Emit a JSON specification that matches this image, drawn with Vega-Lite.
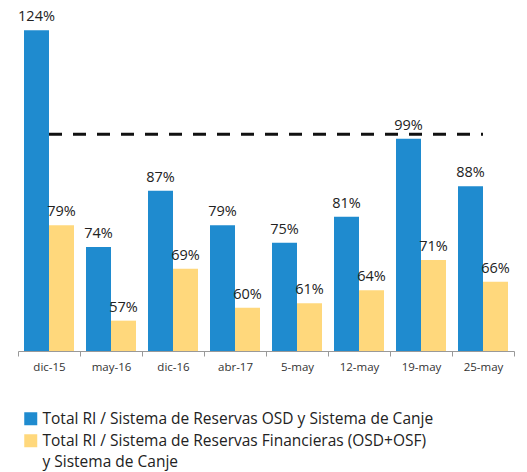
{
  "$schema": "https://vega.github.io/schema/vega-lite/v6.json",
  "width": 496,
  "height": 351,
  "autosize": {"type": "none"},
  "padding": {"left": 18, "top": 0, "right": 13, "bottom": 121},
  "config": {"view": {"stroke": null}, "font": "Open Sans"},
  "datasets": {
    "barras": [
      {"fecha": "dic-15", "serie": "Total RI / Sistema de Reservas OSD y Sistema de Canje", "valor": 124},
      {"fecha": "dic-15", "serie": "Total RI / Sistema de Reservas Financieras (OSD+OSF) y Sistema de Canje", "valor": 79},
      {"fecha": "may-16", "serie": "Total RI / Sistema de Reservas OSD y Sistema de Canje", "valor": 74},
      {"fecha": "may-16", "serie": "Total RI / Sistema de Reservas Financieras (OSD+OSF) y Sistema de Canje", "valor": 57},
      {"fecha": "dic-16", "serie": "Total RI / Sistema de Reservas OSD y Sistema de Canje", "valor": 87},
      {"fecha": "dic-16", "serie": "Total RI / Sistema de Reservas Financieras (OSD+OSF) y Sistema de Canje", "valor": 69},
      {"fecha": "abr-17", "serie": "Total RI / Sistema de Reservas OSD y Sistema de Canje", "valor": 79},
      {"fecha": "abr-17", "serie": "Total RI / Sistema de Reservas Financieras (OSD+OSF) y Sistema de Canje", "valor": 60},
      {"fecha": "5-may", "serie": "Total RI / Sistema de Reservas OSD y Sistema de Canje", "valor": 75},
      {"fecha": "5-may", "serie": "Total RI / Sistema de Reservas Financieras (OSD+OSF) y Sistema de Canje", "valor": 61},
      {"fecha": "12-may", "serie": "Total RI / Sistema de Reservas OSD y Sistema de Canje", "valor": 81},
      {"fecha": "12-may", "serie": "Total RI / Sistema de Reservas Financieras (OSD+OSF) y Sistema de Canje", "valor": 64},
      {"fecha": "19-may", "serie": "Total RI / Sistema de Reservas OSD y Sistema de Canje", "valor": 99},
      {"fecha": "19-may", "serie": "Total RI / Sistema de Reservas Financieras (OSD+OSF) y Sistema de Canje", "valor": 71},
      {"fecha": "25-may", "serie": "Total RI / Sistema de Reservas OSD y Sistema de Canje", "valor": 88},
      {"fecha": "25-may", "serie": "Total RI / Sistema de Reservas Financieras (OSD+OSF) y Sistema de Canje", "valor": 66}
    ],
    "linea": [
      {"fecha": "dic-15", "fin": "25-may", "valor": 100}
    ]
  },
  "layer": [
    {
      "data": {"name": "barras"},
      "mark": {"type": "bar"},
      "encoding": {
        "x": {
          "field": "fecha", "type": "nominal", "sort": null,
          "scale": {"paddingInner": 0, "paddingOuter": 0},
          "axis": {
            "title": null, "labelAngle": 0, "tickBand": "extent", "tickSize": 5,
            "tickColor": "#999999", "domainColor": "#999999", "labelFontSize": 11.5,
            "labelColor": "#333333", "labelPadding": 5, "labelFont": "Open Sans"
          }
        },
        "xOffset": {"field": "serie", "type": "nominal", "sort": null, "scale": {"paddingInner": 0, "paddingOuter": 0.24}},
        "y": {"field": "valor", "type": "quantitative", "scale": {"domain": [50, 131], "zero": false, "nice": false}, "axis": null},
        "y2": {"datum": 50},
        "color": {
          "field": "serie", "type": "nominal", "sort": null,
          "scale": {"range": ["#1f8bcf", "#ffd87c"]},
          "legend": {
            "orient": "none", "legendX": 5, "legendY": 411, "direction": "vertical",
            "title": null, "symbolType": "square", "symbolSize": 169, "symbolStrokeWidth": 0,
            "labelFontSize": 15.5, "labelFont": "Open Sans", "labelColor": "#222222", "labelLimit": 0,
            "labelOffset": 4, "rowPadding": 5, "labelBaseline": "middle",
            "labelExpr": "datum.label == 'Total RI / Sistema de Reservas Financieras (OSD+OSF) y Sistema de Canje' ? ['Total RI / Sistema de Reservas Financieras (OSD+OSF)', 'y Sistema de Canje'] : datum.label",
            "encode": {
              "labels": {
                "update": {
                  "lineHeight": {"value": 21}
                }
              }
            }
          }
        }
      }
    },
    {
      "data": {"name": "barras"},
      "transform": [{"calculate": "datum.valor + '%'", "as": "etiqueta"}],
      "mark": {"type": "text", "dy": -9, "baseline": "alphabetic", "fontSize": 14.5, "color": "#222222", "font": "Open Sans"},
      "encoding": {
        "x": {"field": "fecha", "type": "nominal", "sort": null},
        "xOffset": {"field": "serie", "type": "nominal", "sort": null},
        "y": {"field": "valor", "type": "quantitative"},
        "text": {"field": "etiqueta"}
      }
    },
    {
      "data": {"name": "linea"},
      "mark": {"type": "rule", "strokeDash": [13, 11], "strokeWidth": 3, "color": "#111111"},
      "encoding": {
        "x": {"field": "fecha", "type": "nominal", "sort": null},
        "x2": {"field": "fin"},
        "y": {"field": "valor", "type": "quantitative"}
      }
    }
  ]
}
